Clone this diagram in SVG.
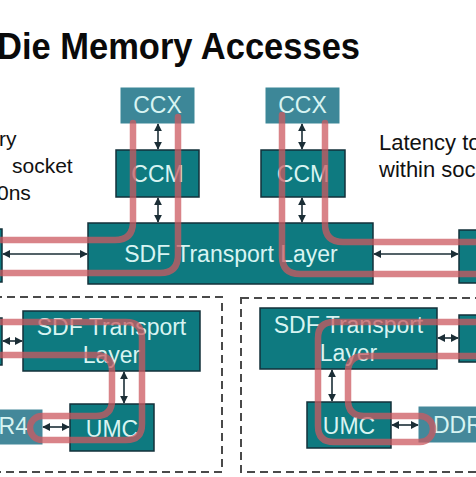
<svg xmlns="http://www.w3.org/2000/svg" width="476" height="477" viewBox="0 0 476 477">
<defs>
<style>
.ccx{fill:#3d8798;stroke:#3d8798;stroke-width:1}
.blk{fill:#0e7a80;stroke:#13303a;stroke-width:1.5}
.ddr{fill:#44889a;stroke:#44889a;stroke-width:1}
.bt{font-family:"Liberation Sans",Arial,sans-serif;font-size:23px;fill:#d8f4f2;text-anchor:middle}
.lt{font-family:"Liberation Sans",Arial,sans-serif;font-size:21px;fill:#111}
.rt{font-family:"Liberation Sans",Arial,sans-serif;font-size:22px;fill:#111}
.ar{stroke:#1b2e36;stroke-width:1.6;fill:none;marker-start:url(#ah);marker-end:url(#ah)}
.red{fill:none;stroke:#cc5a60;stroke-opacity:0.75;stroke-width:6.5;stroke-linecap:round;stroke-linejoin:round}
.dash{fill:none;stroke:#4a4a4a;stroke-width:2;stroke-dasharray:8 5}
</style>
<marker id="ah" viewBox="0 0 10 10" refX="9" refY="5" markerWidth="5" markerHeight="5" orient="auto-start-reverse" markerUnits="strokeWidth">
<path d="M0,0 L10,5 L0,10 z" fill="#1b2e36"/>
</marker>
</defs>
<rect width="476" height="477" fill="#ffffff"/>
<text x="-3" y="59" font-family="'Liberation Sans',Arial,sans-serif" font-size="37" font-weight="bold" fill="#0a0a0a" textLength="363" lengthAdjust="spacingAndGlyphs">Die Memory Accesses</text>
<g id="note-left">
<text class="lt" x="-1" y="146">ry</text>
<text class="lt" x="12" y="173">socket</text>
<text class="lt" x="-3" y="200">0ns</text>
</g>
<g id="note-right">
<text class="rt" x="379" y="150">Latency to</text>
<text class="rt" x="379" y="177">within soc</text>
</g>
<g id="dashed-boxes">
<rect class="dash" x="-6" y="297" width="228" height="175"/>
<rect class="dash" x="241" y="298" width="245" height="174"/>
</g>
<g id="ccx-left"><rect class="ccx" x="121" y="88" width="73" height="35"/><text class="bt" x="157.5" y="113">CCX</text></g>
<g id="ccx-right"><rect class="ccx" x="266" y="88" width="73" height="35"/><text class="bt" x="302.5" y="113">CCX</text></g>
<g id="ccm-left"><rect class="blk" x="116" y="150" width="83" height="47"/><text class="bt" x="157.5" y="182">CCM</text></g>
<g id="ccm-right"><rect class="blk" x="261" y="150" width="84" height="47"/><text class="bt" x="303" y="182">CCM</text></g>
<g id="sdf-top"><rect class="blk" x="88" y="223" width="285" height="61"/><text class="bt" x="231" y="262">SDF Transport Layer</text></g>
<g id="edge-top-left"><rect class="blk" x="-10" y="229" width="12" height="53"/></g>
<g id="edge-top-right"><rect class="blk" x="459" y="230" width="25" height="53"/></g>
<g id="sdf-bl"><rect class="blk" x="23" y="311" width="177" height="60"/><text class="bt" x="111.5" y="335">SDF Transport</text><text class="bt" x="111.5" y="363">Layer</text></g>
<g id="edge-bl"><rect class="blk" x="-10" y="318" width="12" height="47"/></g>
<g id="umc-left"><rect class="blk" x="70" y="404" width="84" height="47"/><text class="bt" x="112" y="437">UMC</text></g>
<g id="ddr-left"><rect class="ddr" x="-44" y="410" width="86" height="34"/><text class="bt" x="28" y="434" style="text-anchor:end">DDR4</text></g>
<g id="sdf-br"><rect class="blk" x="260" y="308" width="177" height="61"/><text class="bt" x="348.5" y="333">SDF Transport</text><text class="bt" x="348.5" y="361">Layer</text></g>
<g id="edge-br"><rect class="blk" x="459" y="315" width="25" height="47"/></g>
<g id="umc-right"><rect class="blk" x="307" y="402" width="84" height="46"/><text class="bt" x="349" y="434">UMC</text></g>
<g id="ddr-right"><rect class="ddr" x="419" y="407" width="70" height="35"/><text class="bt" x="433" y="433" style="text-anchor:start">DDR4</text></g>
<g id="connectors">
<line class="ar" x1="158" y1="124" x2="158" y2="149"/>
<line class="ar" x1="158" y1="198" x2="158" y2="222"/>
<line class="ar" x1="302" y1="124" x2="302" y2="149"/>
<line class="ar" x1="302" y1="198" x2="302" y2="222"/>
<line class="ar" x1="3" y1="254" x2="87" y2="254"/>
<line class="ar" x1="374" y1="254" x2="458" y2="254"/>
<line class="ar" x1="3" y1="341" x2="22" y2="341"/>
<line class="ar" x1="124" y1="372" x2="124" y2="403"/>
<line class="ar" x1="43" y1="427" x2="69" y2="427"/>
<line class="ar" x1="438" y1="338" x2="458" y2="338"/>
<line class="ar" x1="332" y1="370" x2="332" y2="401"/>
<line class="ar" x1="392" y1="425" x2="418" y2="425"/>
</g>
<g id="paths">
<path class="red" d="M133,123 V222 Q133,240 115,240 H-5"/>
<path class="red" d="M178,117 V255 Q178,273 160,273 H-5"/>
<path class="red" d="M282,115 V256 Q282,274 300,274 H481"/>
<path class="red" d="M325,123 V224 Q325,242 343,242 H481"/>
<path class="red" d="M-5,322 H126 Q142,322 142,338 V424 Q142,440 126,440 H42 A12,12 0 0 1 42,416 H96 Q112,416 112,400 V371 Q112,355 96,355 H-5"/>
<path class="red" d="M481,322 H334 Q318,322 318,338 V426 Q318,442 334,442 H420 A13,13 0 0 0 420,416 H364 Q348,416 348,400 V372 Q348,356 364,356 H481"/>
</g>
</svg>
